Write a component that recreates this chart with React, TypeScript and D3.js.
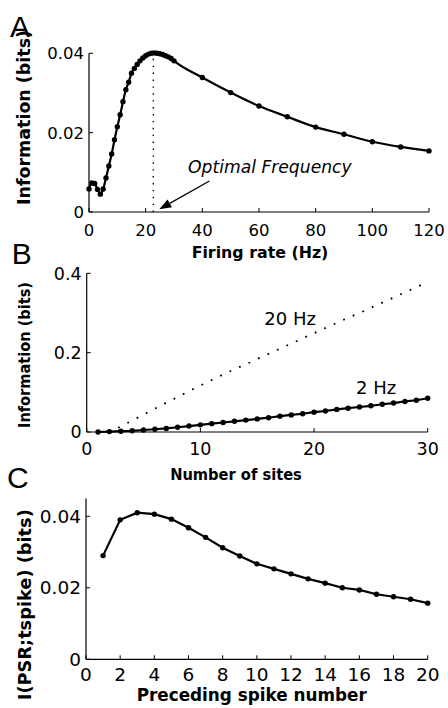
import React from 'react';
import * as d3 from 'd3';

// ---------- Panel A: information vs firing rate ----------
const rateHz = [0, 1, 2, 3, 4, 5, 6, 7, 8, 9, 10, 11, 12, 13, 14, 15, 16, 17, 18, 19, 20,
  21, 22, 23, 24, 25, 26, 27, 28, 29, 30, 40, 50, 60, 70, 80, 90, 100, 110, 120];
const rateInfo = [0.0058, 0.0073, 0.0072, 0.0057, 0.0045, 0.0058, 0.0086, 0.0116, 0.0146, 0.0182,
  0.0215, 0.0245, 0.0278, 0.0308, 0.0327, 0.0350, 0.0362, 0.0372, 0.0381, 0.0388, 0.0394,
  0.0398, 0.0400, 0.0401, 0.0400, 0.0399, 0.0397, 0.0394, 0.0391, 0.0387, 0.0381,
  0.0339, 0.0301, 0.0267, 0.0240, 0.0214, 0.0196, 0.0177, 0.0164, 0.0154];
const optimalHz = 22.7;
const aXTicks = [0, 20, 40, 60, 80, 100, 120];
const aYTicks = [0, 0.02, 0.04];
const aYLabels = ['0', '0.02', '0.04'];

// ---------- Panel B: information vs number of sites ----------
const sites = [1, 2, 3, 4, 5, 6, 7, 8, 9, 10, 11, 12, 13, 14, 15, 16, 17, 18, 19, 20,
  21, 22, 23, 24, 25, 26, 27, 28, 29, 30];
const info2Hz = [0.000, 0.001, 0.002, 0.003, 0.005, 0.007, 0.009, 0.012, 0.015, 0.018,
  0.021, 0.024, 0.027, 0.030, 0.033, 0.036, 0.040, 0.043, 0.046, 0.050,
  0.053, 0.057, 0.060, 0.063, 0.066, 0.070, 0.073, 0.077, 0.080, 0.085];
const info20Hz = [0.000, 0.002, 0.014, 0.029, 0.044, 0.059, 0.074, 0.088, 0.103, 0.117,
  0.131, 0.145, 0.158, 0.171, 0.184, 0.197, 0.210, 0.223, 0.236, 0.249,
  0.262, 0.275, 0.288, 0.300, 0.313, 0.326, 0.339, 0.352, 0.365, 0.378];
const bXTicks = [0, 10, 20, 30];
const bYTicks = [0, 0.2, 0.4];
const bYLabels = ['0', '0.2', '0.4'];

// ---------- Panel C: information vs preceding spike number ----------
const spikeNum = [1, 2, 3, 4, 5, 6, 7, 8, 9, 10, 11, 12, 13, 14, 15, 16, 17, 18, 19, 20];
const spikeInfo = [0.0290, 0.0390, 0.0410, 0.0406, 0.0392, 0.0368, 0.0341, 0.0312, 0.0289, 0.0267,
  0.0253, 0.0239, 0.0225, 0.0213, 0.0200, 0.0194, 0.0182, 0.0175, 0.0168, 0.0157];
const cXTicks = [0, 2, 4, 6, 8, 10, 12, 14, 16, 18, 20];
const cYTicks = [0, 0.02, 0.04];
const cYLabels = ['0', '0.02', '0.04'];

const FONT = 'DejaVu Sans';
const LETTER_FONT = 'Liberation Sans';

type Scale = d3.ScaleLinear<number, number>;

function Axes(props: {
  x: Scale; y: Scale; xTicks: number[]; yTicks: number[]; yLabels: string[];
  xTickDy: number; tickSize: number;
}) {
  const { x, y, xTicks, yTicks, yLabels, xTickDy, tickSize } = props;
  const [x0, x1] = x.range();
  const [y0, y1] = y.range();
  return (
    <g fill="#000" stroke="none">
      <line x1={x0} x2={x1} y1={y0} y2={y0} stroke="#000" strokeWidth={1.2} />
      <line x1={x0} x2={x0} y1={y0} y2={y1} stroke="#000" strokeWidth={1.2} />
      {xTicks.map((t) => (
        <g key={'x' + t}>
          <line x1={x(t)} x2={x(t)} y1={y0} y2={y0 - 4} stroke="#000" strokeWidth={1} />
          <text x={x(t)} y={y0 + xTickDy} textAnchor="middle" fontFamily={FONT} fontSize={tickSize}>{t}</text>
        </g>
      ))}
      {yTicks.map((t, i) => (
        <g key={'y' + t}>
          <line x1={x0} x2={x0 + 4} y1={y(t)} y2={y(t)} stroke="#000" strokeWidth={1} />
          <text x={x0 - 5} y={y(t)} dy="0.36em" textAnchor="end" fontFamily={FONT} fontSize={tickSize}>{yLabels[i]}</text>
        </g>
      ))}
    </g>
  );
}

function YLabel(props: { x: number; y: number; size: number; len: number; text: string }) {
  return (
    <text transform={`translate(${props.x},${props.y}) rotate(-90)`} textAnchor="middle"
      fontFamily={FONT} fontWeight="bold" fontSize={props.size}
      textLength={props.len} lengthAdjust="spacingAndGlyphs">{props.text}</text>
  );
}

function XLabel(props: { x: number; y: number; size: number; len: number; text: string }) {
  return (
    <text x={props.x} y={props.y} textAnchor="middle" fontFamily={FONT} fontWeight="bold"
      fontSize={props.size} textLength={props.len} lengthAdjust="spacingAndGlyphs">{props.text}</text>
  );
}

export default function App() {
  // Panel A scales
  const ax = d3.scaleLinear().domain([0, 120]).range([89, 429]);
  const ay = d3.scaleLinear().domain([0, 0.04]).range([212, 53.3]);
  const aLine = d3.line<number>().x((_, i) => ax(rateHz[i])).y((d) => ay(d)).curve(d3.curveMonotoneX);

  // Panel B scales
  const bx = d3.scaleLinear().domain([0, 30]).range([86.7, 427.7]);
  const by = d3.scaleLinear().domain([0, 0.4]).range([432, 273.3]);
  const b2Line = d3.line<number>().x((_, i) => bx(sites[i])).y((d) => by(d));
  const b20Line = d3.line<number>().x((_, i) => bx(sites[i])).y((d) => by(d)).curve(d3.curveMonotoneX);

  // Panel C scales
  const cx = d3.scaleLinear().domain([0, 20]).range([86, 427.7]);
  const cy = d3.scaleLinear().domain([0, 0.045]).range([659.3, 498.4]);
  const cLine = d3.line<number>().x((_, i) => cx(spikeNum[i])).y((d) => cy(d));

  // arrow annotation (data coords)
  const arrowFrom: [number, number] = [42.5, 0.0078];
  const arrowTo: [number, number] = [24.8, 0.0007];
  const fx = ax(arrowFrom[0]), fy = ay(arrowFrom[1]);
  const tx = ax(arrowTo[0]), ty = ay(arrowTo[1]);
  const ang = Math.atan2(ty - fy, tx - fx);
  const hl = 12, hw = 4.5;
  const bxp = tx - hl * Math.cos(ang), byp = ty - hl * Math.sin(ang);
  const head = `M${tx},${ty} L${bxp - hw * Math.sin(ang)},${byp + hw * Math.cos(ang)} L${bxp + hw * Math.sin(ang)},${byp - hw * Math.cos(ang)} Z`;

  return (
    <svg width={448} height={708} style={{ position: 'absolute', left: 0, top: 0, background: '#fff' }}>
      <rect width={448} height={708} fill="#fff" />

      {/* ---------------- Panel A ---------------- */}
      <text x={10} y={36.7} fontFamily={LETTER_FONT} fontSize={30}>A</text>
      <Axes x={ax} y={ay} xTicks={aXTicks} yTicks={aYTicks} yLabels={aYLabels} xTickDy={24} tickSize={16.5} />
      <YLabel x={30} y={117.5} size={17.2} len={175} text="Information (bits)" />
      <XLabel x={260} y={258} size={16.5} len={136.7} text="Firing rate (Hz)" />
      <line x1={ax(optimalHz)} x2={ax(optimalHz)} y1={ay(0)} y2={ay(0.04)} stroke="#000"
        strokeWidth={1.4} strokeDasharray="1.4 5.5" />
      <path d={aLine(rateInfo) || ''} fill="none" stroke="#000" strokeWidth={2.2} />
      {rateInfo.map((v, i) => (
        <circle key={i} cx={ax(rateHz[i])} cy={ay(v)} r={2.7} fill="#000" />
      ))}
      <line x1={fx} y1={fy} x2={bxp} y2={byp} stroke="#000" strokeWidth={1.3} />
      <path d={head} fill="#000" />
      <text x={188} y={173} fontFamily={FONT} fontStyle="italic" fontSize={17}
        textLength={163.7} lengthAdjust="spacingAndGlyphs">Optimal Frequency</text>

      {/* ---------------- Panel B ---------------- */}
      <text x={11.7} y={264} fontFamily={LETTER_FONT} fontSize={30}>B</text>
      <Axes x={bx} y={by} xTicks={bXTicks} yTicks={bYTicks} yLabels={bYLabels} xTickDy={23} tickSize={17.5} />
      <YLabel x={30} y={355} size={15.5} len={146} text="Information (bits)" />
      <XLabel x={236} y={480} size={16} len={131.7} text="Number of sites" />
      <path d={b20Line(info20Hz) || ''} fill="none" stroke="#000" strokeWidth={1.8} strokeDasharray="1.8 8.6" />
      <path d={b2Line(info2Hz) || ''} fill="none" stroke="#000" strokeWidth={2.2} />
      {info2Hz.map((v, i) => (
        <circle key={i} cx={bx(sites[i])} cy={by(v)} r={2.7} fill="#000" />
      ))}
      <text x={264.3} y={325} fontFamily={FONT} fontSize={18}>20 Hz</text>
      <text x={356} y={394} fontFamily={FONT} fontSize={18}>2 Hz</text>

      {/* ---------------- Panel C ---------------- */}
      <text x={7} y={488.3} fontFamily={LETTER_FONT} fontSize={30}>C</text>
      <Axes x={cx} y={cy} xTicks={cXTicks} yTicks={cYTicks} yLabels={cYLabels} xTickDy={22} tickSize={18.5} />
      <YLabel x={31} y={604.7} size={17.7} len={191} text="I(PSR;tspike) (bits)" />
      <XLabel x={251.7} y={701} size={17} len={230} text="Preceding spike number" />
      <path d={cLine(spikeInfo) || ''} fill="none" stroke="#000" strokeWidth={2.2} />
      {spikeInfo.map((v, i) => (
        <circle key={i} cx={cx(spikeNum[i])} cy={cy(v)} r={2.7} fill="#000" />
      ))}
    </svg>
  );
}
